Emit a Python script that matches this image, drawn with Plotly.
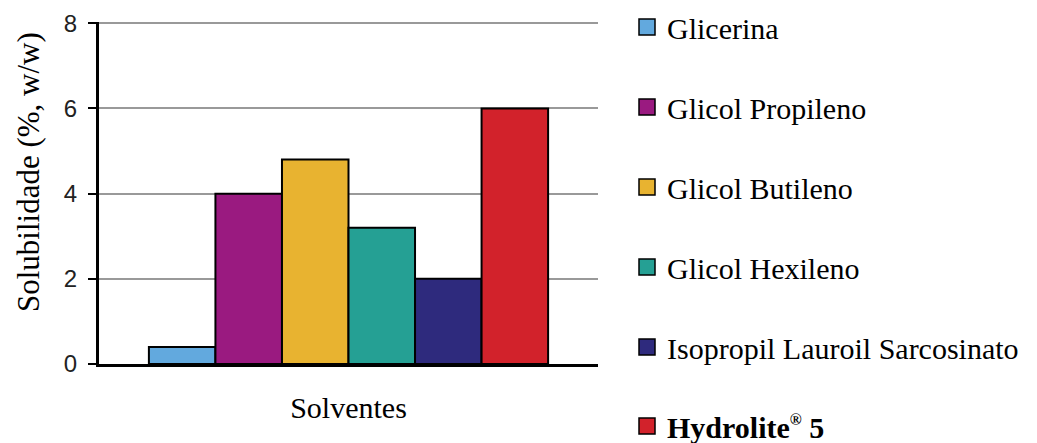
import plotly.graph_objects as go

solvents = ["Glicerina", "Glicol Propileno", "Glicol Butileno", "Glicol Hexileno",
            "Isopropil Lauroil Sarcosinato", "Hydrolite® 5"]
legend_labels = ["Glicerina", "Glicol Propileno", "Glicol Butileno", "Glicol Hexileno",
                 "Isopropil Lauroil Sarcosinato",
                 "<b>Hydrolite<sup><span style='font-size:16px'>®</span></sup> 5</b>"]
solubility = [0.4, 4.0, 4.8, 3.2, 2.0, 6.0]
colors = ["#62a9de", "#9a1a80", "#e8b330", "#25a094", "#2e2a7d", "#d2222b"]
y_ticks = [0, 2, 4, 6, 8]
y_title = "Solubilidade (%, w/w)"
x_title = "Solventes"

# the page body has an 8px default margin, so the figure is made 8px smaller
W, H = 1029, 435
serif = "Liberation Serif"
legend_ids = ["legend", "legend2", "legend3", "legend4", "legend5", "legend6"]
legend_centers_px = [19, 99, 179, 259, 339, 418]

fig = go.Figure()
for name, lab, val, col, lid in zip(solvents, legend_labels, solubility, colors, legend_ids):
    fig.add_trace(go.Bar(
        x=[0], y=[val], name=lab, legendgroup=name, showlegend=False,
        marker=dict(color=col, line=dict(color="black", width=2)),
    ))
    fig.add_trace(go.Scatter(
        x=[None], y=[None], mode="markers", name=lab, legendgroup=name, legend=lid,
        marker=dict(symbol="square", size=16, color=col, line=dict(color="black", width=1.5)),
    ))

legend_layout = {}
for lid, yc in zip(legend_ids, legend_centers_px):
    legend_layout[lid] = dict(
        xref="container", yref="container",
        x=619 / W, xanchor="left", y=1 - yc / H, yanchor="middle",
        font=dict(family=serif, size=30, color="black"),
        bgcolor="rgba(0,0,0,0)", borderwidth=0,
    )

fig.update_layout(
    width=W, height=H,
    margin=dict(l=91, r=439, t=14, b=79, autoexpand=False),
    paper_bgcolor="white", plot_bgcolor="white",
    barmode="group", bargap=0.2, bargroupgap=0,
    showlegend=True,
    xaxis=dict(range=[-0.5, 0.5], showticklabels=False, ticks="",
               showgrid=False, zeroline=False,
               showline=True, linecolor="black", linewidth=3,
               title=dict(text=x_title, font=dict(family=serif, size=30, color="black"),
                          standoff=31)),
    yaxis=dict(range=[0, 8.03], tickvals=y_ticks, ticks="outside", ticklen=8,
               tickwidth=2, tickcolor="black", ticklabelstandoff=6,
               tickfont=dict(family="Liberation Sans", size=24, color="#222222"),
               showgrid=True, gridcolor="#999999", gridwidth=1.5,
               zeroline=False, showline=True, linecolor="black", linewidth=3),
    annotations=[dict(text=y_title, textangle=-90, xref="paper", yref="paper",
                      x=-0.1423, y=0.5614, xanchor="center", yanchor="middle",
                      showarrow=False, font=dict(family=serif, size=31, color="black"))],
    **legend_layout,
)

fig.write_html("out.html")
